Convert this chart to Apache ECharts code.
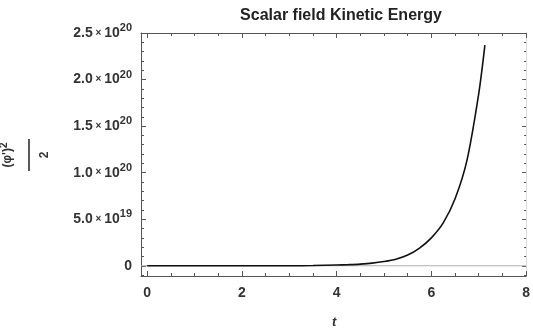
<!DOCTYPE html>
<html>
<head>
<meta charset="utf-8">
<script src="https://cdn.jsdelivr.net/npm/echarts@6/dist/echarts.min.js"></script>
<style>
  html, body { margin: 0; padding: 0; background: #fff; }
  #chart { width: 533px; height: 331px; }
</style>
</head>
<body>
<div id="chart"></div>
<script>
// Time samples and kinetic energy (φ')²/2, in units of 1e20
const tValues = [0, 0.5, 1, 1.5, 2, 2.5, 3, 3.5, 4, 4.25, 4.5, 4.75, 5, 5.25, 5.5, 5.75, 6, 6.25, 6.5, 6.75, 7, 7.13];
const energyE20 = [0, 0, 0, 0, 0, 0, 0.0002, 0.002, 0.008, 0.012, 0.018, 0.028, 0.045, 0.07, 0.115, 0.19, 0.30, 0.46, 0.72, 1.13, 1.85, 2.37];

const xMajorTicks = [0, 2, 4, 6, 8];
const xMinorTicks = [0.5, 1, 1.5, 2.5, 3, 3.5, 4.5, 5, 5.5, 6.5, 7, 7.5];
// y tick labels: mantissa and exponent
const yTickValuesE20 = [0, 0.5, 1.0, 1.5, 2.0, 2.5];
const yTickMantissa = ['0', '5.0', '1.0', '1.5', '2.0', '2.5'];
const yTickExponent = ['', '19', '20', '20', '20', '20'];
const yMinorTicksE20 = [-0.1, 0.1, 0.2, 0.3, 0.4, 0.6, 0.7, 0.8, 0.9, 1.1, 1.2, 1.3, 1.4, 1.6, 1.7, 1.8, 1.9, 2.1, 2.2, 2.3, 2.4];

const E = 1e20;
const seriesData = tValues.map((t, i) => [t, energyE20[i] * E]);
const yMajor = yTickValuesE20.map(v => v * E);
const yMinor = yMinorTicksE20.map(v => Math.round(v * 10) / 10 * E);

const X_MIN = -0.13, X_MAX = 8.0;
const Y_MIN = -0.11 * E, Y_MAX = 2.5 * E;

const frameColor = '#555';
const labelFont = 'Liberation Sans, Arial, sans-serif';

function xAxisDef(pos, ticks, len, showLine, showLabel, lineColor) {
  return {
    type: 'value', position: pos, min: X_MIN, max: X_MAX,
    axisLine: { show: showLine, onZero: false, lineStyle: { color: lineColor || frameColor, width: 1 } },
    axisTick: { show: true, inside: true, length: len, customValues: ticks, lineStyle: { color: frameColor, width: 1 } },
    axisLabel: showLabel ? {
      show: true, customValues: ticks, margin: 10,
      color: '#333', fontFamily: labelFont, fontWeight: 'bold', fontSize: 14
    } : { show: false },
    splitLine: { show: false }
  };
}

function yLabelFormatter(value) {
  const idx = yMajor.findIndex(v => Math.abs(v - value) < 1e15);
  if (idx < 0) return '';
  if (!yTickExponent[idx]) return '{m|' + yTickMantissa[idx] + '}';
  return '{m|' + yTickMantissa[idx] + '}{x| × }{m|10}{s|' + yTickExponent[idx] + '}';
}

function yAxisDef(pos, ticks, len, showLine, showLabel, lineColor) {
  return {
    type: 'value', position: pos, min: Y_MIN, max: Y_MAX,
    axisLine: { show: showLine, onZero: false, lineStyle: { color: lineColor || frameColor, width: 1 } },
    axisTick: { show: true, inside: true, length: len, customValues: ticks, lineStyle: { color: frameColor, width: 1 } },
    axisLabel: showLabel ? {
      show: true, customValues: ticks, margin: 9,
      formatter: yLabelFormatter,
      rich: {
        m: { color: '#333', fontFamily: labelFont, fontWeight: 'bold', fontSize: 14 },
        x: { color: '#333', fontFamily: labelFont, fontWeight: 'bold', fontSize: 10 },
        s: { color: '#333', fontFamily: labelFont, fontWeight: 'bold', fontSize: 11, padding: [0, 0, 10, 0] }
      }
    } : { show: false },
    splitLine: { show: false }
  };
}

const chart = echarts.init(document.getElementById('chart'), null, { renderer: 'canvas' });
chart.setOption({
  backgroundColor: '#fff',
  animation: false,
  title: {
    text: 'Scalar field Kinetic Energy',
    left: 336, top: 3, textAlign: 'center',
    textStyle: { fontFamily: labelFont, fontWeight: 'bold', fontSize: 16, color: '#222' }
  },
  grid: { left: 141, right: 4, top: 33, bottom: 55 },
  xAxis: [
    xAxisDef('bottom', xMajorTicks, 5, true, true),
    xAxisDef('bottom', xMinorTicks, 3, false, false),
    xAxisDef('top', xMajorTicks, 5, true, false),
    xAxisDef('top', xMinorTicks, 3, false, false)
  ],
  yAxis: [
    yAxisDef('left', yMajor, 5, true, true),
    yAxisDef('left', yMinor, 3, false, false),
    yAxisDef('right', yMajor, 4, true, false, '#ddd'),
    yAxisDef('right', yMinor, 2, false, false, '#ddd')
  ],
  series: [
    {
      // zero reference line
      type: 'line', xAxisIndex: 0, yAxisIndex: 0,
      data: [[X_MIN, 0], [X_MAX, 0]],
      symbol: 'none', silent: true,
      lineStyle: { color: '#b0b0b0', width: 1 }
    },
    {
      type: 'line', xAxisIndex: 0, yAxisIndex: 0,
      data: seriesData, smooth: 0.3,
      symbol: 'none',
      lineStyle: { color: '#111', width: 1.6 }
    }
  ],
  graphic: [
    {
      type: 'text', left: 332, top: 316,
      style: { text: 't', font: 'italic bold 13px ' + labelFont, fill: '#333' }
    },
    {
      type: 'group', x: 29, y: 155, rotation: Math.PI / 2,
      children: [
        {
          type: 'text', x: 0, y: -13,
          style: {
            text: '{a|(φ\')}{s|2}', textAlign: 'center', textVerticalAlign: 'bottom',
            rich: {
              a: { font: 'bold 12px ' + labelFont, fill: '#333' },
              s: { font: 'bold 10px ' + labelFont, fill: '#333', padding: [0, 0, 7, 0] }
            }
          }
        },
        {
          type: 'line', shape: { x1: -16, y1: 0, x2: 16, y2: 0 },
          style: { stroke: '#222', lineWidth: 1.5 }
        },
        {
          type: 'text', x: 0, y: 10,
          style: { text: '2', textAlign: 'center', textVerticalAlign: 'top', font: 'bold 12px ' + labelFont, fill: '#333' }
        }
      ]
    }
  ]
});
</script>
</body>
</html>
